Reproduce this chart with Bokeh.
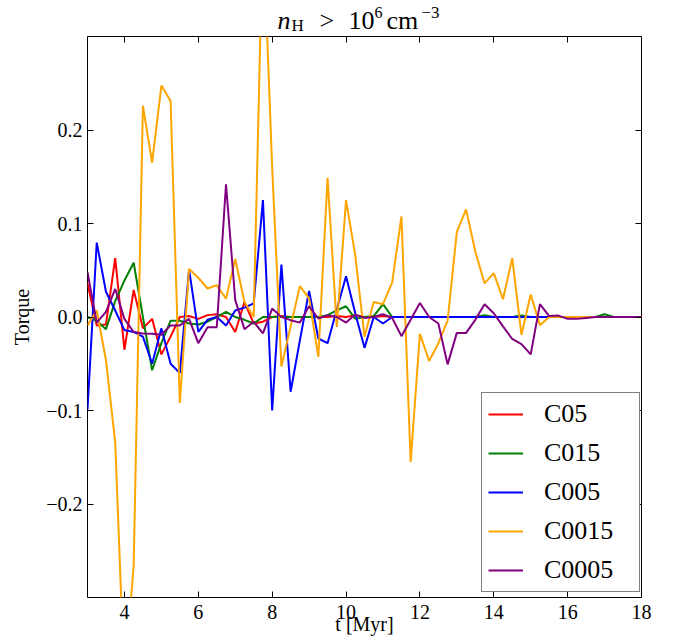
from bokeh.plotting import figure
from bokeh.layouts import column
from bokeh.models import (LinearAxis, FixedTicker, CustomJSTickFormatter, Legend, LegendItem,
                          Range1d)
from bokeh.core.properties import value
from bokeh.embed import file_html
from bokeh.resources import INLINE

# ---------------- data ----------------
t_myr = [3.0, 3.25, 3.5, 3.75, 4.0, 4.25, 4.5, 4.75, 5.0, 5.25, 5.5, 5.75, 6.0, 6.25, 6.5, 6.75,
         7.0, 7.25, 7.5, 7.75, 8.0, 8.25, 8.5, 8.75, 9.0, 9.25, 9.5, 9.75, 10.0, 10.25, 10.5, 10.75,
         11.0, 11.25, 11.5, 11.75, 12.0, 12.25, 12.5, 12.75, 13.0, 13.25, 13.5, 13.75, 14.0, 14.25,
         14.5, 14.75, 15.0, 15.25, 15.5, 15.75, 16.0, 16.25, 16.5, 16.75, 17.0, 17.25, 17.5, 17.75, 18.0]

torque_C05 = [0.036, -0.009, -0.008, 0.063, -0.035, 0.029, -0.012, -0.002, -0.040, -0.021,
              0.000, 0.001, -0.002, 0.002, 0.003, 0.000, -0.016, 0.016, -0.007, -0.005,
              0.000, 0.001, 0.000, 0.000, 0.000, 0.000, 0.000, 0.001, 0.000, 0.002,
              0.000, 0.000, 0.001, 0.000, 0.000, 0.000, 0.000, 0.000, 0.000, 0.000,
              0.000, 0.000, 0.000, 0.000, 0.000, 0.000, 0.000, 0.000, 0.000, 0.000,
              0.000, 0.000, 0.000, 0.000, 0.000, 0.000, 0.000, 0.000, 0.000, 0.000, 0.000]

torque_C015 = [0.000, -0.004, -0.013, 0.017, 0.039, 0.058, 0.000, -0.057, -0.028, -0.004,
               -0.004, -0.007, -0.008, -0.005, 0.000, 0.0055, 0.000, -0.003, -0.007, 0.000,
               0.000, 0.000, 0.000, 0.000, 0.000, 0.000, 0.002, 0.007, 0.0115, -0.002,
               0.000, 0.001, 0.0137, 0.000, 0.000, 0.000, 0.000, 0.000, 0.000, 0.000,
               0.000, 0.000, 0.000, 0.002, 0.000, 0.000, 0.000, 0.0015, 0.000, 0.000,
               0.000, 0.000, 0.000, 0.000, 0.000, 0.000, 0.003, 0.000, 0.000, 0.000, 0.000]

torque_C005 = [-0.099, 0.0795, 0.027, 0.007, -0.014, -0.016, -0.021, -0.050, -0.012, -0.050,
               -0.060, 0.051, -0.016, -0.003, 0.000, -0.009, 0.007, 0.010, 0.0145, 0.125,
               -0.100, 0.056, -0.080, -0.025, 0.028, -0.023, -0.028, 0.008, 0.0435, 0.004,
               -0.033, 0.000, -0.007, 0.000, 0.000, 0.000, 0.000, 0.000, 0.000, 0.000,
               0.000, 0.000, 0.000, 0.000, 0.000, 0.000, 0.000, 0.000, 0.000, 0.000,
               0.000, 0.000, 0.000, 0.000, 0.000, 0.000, 0.000, 0.000, 0.000, 0.000, 0.000]

torque_C0015 = [-0.009, 0.007, -0.046, -0.134, -0.390, -0.266, 0.226, 0.165, 0.2475, 0.231,
                -0.092, 0.0515, 0.042, 0.0305, 0.034, 0.0196, 0.062, 0.016, 0.000, 0.420,
                0.160, -0.053, -0.010, 0.033, 0.020, -0.0425, 0.149, -0.0105, 0.125, 0.066,
                -0.021, 0.016, 0.0137, 0.037, 0.1075, -0.155, -0.018, -0.047, -0.028, -0.004,
                0.091, 0.115, 0.070, 0.036, 0.047, 0.019, 0.063, -0.019, 0.024, -0.0087,
                0.000, 0.000, 0.000, 0.000, 0.000, 0.000, 0.000, 0.000, 0.000, 0.000, 0.000]

torque_C0005 = [0.048, -0.006, 0.0055, 0.030, -0.002, -0.016, -0.0176, -0.018, -0.019, -0.009,
                -0.009, -0.002, -0.028, -0.011, -0.011, 0.142, 0.018, -0.013, -0.005, -0.0176,
                0.009, 0.000, -0.0034, -0.006, 0.0115, -0.0016, 0.002, 0.000, -0.006, 0.0026,
                -0.001, 0.000, 0.003, -0.001, -0.0205, -0.003, 0.015, 0.000, -0.007, -0.0507,
                -0.017, -0.017, -0.003, 0.0137, 0.004, -0.010, -0.0235, -0.029, -0.040, 0.0137,
                0.001, 0.0015, -0.002, -0.002, -0.001, 0.000, 0.000, 0.000, 0.000, 0.000, 0.000]

series_names = ["C05", "C015", "C005", "C0015", "C0005"]
series_colors = ["red", "green", "blue", "orange", "purple"]
series_values = [torque_C05, torque_C015, torque_C005, torque_C0015, torque_C0005]

x_ticks = [4, 6, 8, 10, 12, 14, 16, 18]
y_ticks = [-0.2, -0.1, 0.0, 0.1, 0.2]

FONT = "Liberation Serif"

# ---------------- title strip (data units = page pixels) ----------------
tf = figure(width=675, height=36, x_range=Range1d(87, 641), y_range=Range1d(36, 0),
            output_backend="svg", toolbar_location=None,
            x_axis_location=None, y_axis_location=None,
            min_border_left=87, min_border_right=34, min_border_top=0, min_border_bottom=0)
tf.grid.visible = False
tf.outline_line_color = None
tf.background_fill_color = "white"
tf.border_fill_color = "white"

title_parts = [
    ("n", 277, 20.3, "26px", "italic"),
    ("H", 291, 25.1, "17px", "normal"),
    (">", 319, 20.3, "26px", "normal"),
    ("10", 348, 20.3, "26px", "normal"),
    ("6", 374, 11.8, "16px", "normal"),
    ("cm", 386, 20.3, "26px", "normal"),
    ("\u22123", 421, 11.8, "17px", "normal"),
]
for txt, px, py, fs, style in title_parts:
    tf.text(x=[px], y=[py], text=[txt], text_font=value(FONT), text_font_size=value(fs),
            text_font_style=value(style), text_color="black", text_line_height=1.0,
            text_align="left", text_baseline="alphabetic")

# ---------------- main figure ----------------
p = figure(width=675, height=607, x_range=Range1d(3, 18), y_range=Range1d(-0.3, 0.3),
           output_backend="svg", toolbar_location=None,
           x_axis_location=None, y_axis_location=None,
           min_border_left=87, min_border_right=34, min_border_top=0, min_border_bottom=46)
p.grid.visible = False
p.outline_line_color = "black"
p.outline_line_width = 1
p.background_fill_color = "white"
p.border_fill_color = "white"


def style_axis(ax, show_labels):
    ax.axis_line_color = None
    ax.major_tick_in = 6
    ax.major_tick_out = 0
    ax.major_tick_line_color = "black"
    ax.major_tick_line_width = 1
    ax.minor_tick_line_color = None
    ax.major_label_text_font = FONT
    ax.major_label_text_color = "black"
    if show_labels:
        ax.major_label_text_font_size = "20px"
    else:
        ax.major_label_text_font_size = "0px"
        ax.major_label_standoff = 0
        ax.formatter = CustomJSTickFormatter(code="return '';")


xb = LinearAxis(ticker=FixedTicker(ticks=x_ticks))
style_axis(xb, True)
xb.major_label_standoff = 7
xb.axis_label = "t [Myr]"
xb.axis_label_text_font = FONT
xb.axis_label_text_font_size = "20px"
xb.axis_label_text_font_style = "normal"
xb.axis_label_text_color = "black"
xb.axis_label_standoff = -9
p.add_layout(xb, "below")

xt = LinearAxis(ticker=FixedTicker(ticks=x_ticks))
style_axis(xt, False)
p.add_layout(xt, "above")

yl = LinearAxis(ticker=FixedTicker(ticks=y_ticks),
                formatter=CustomJSTickFormatter(
                    code="return (tick < -1e-9 ? '\u2212' : '') + Math.abs(tick).toFixed(1);"))
style_axis(yl, True)
yl.major_label_standoff = 5
yl.axis_label = "Torque"
yl.axis_label_text_font = FONT
yl.axis_label_text_font_size = "20px"
yl.axis_label_text_font_style = "normal"
yl.axis_label_text_color = "black"
yl.axis_label_standoff = 10
p.add_layout(yl, "left")

yr = LinearAxis(ticker=FixedTicker(ticks=y_ticks))
style_axis(yr, False)
p.add_layout(yr, "right")

# ---------------- lines ----------------
items = []
for name, color, vals in zip(series_names, series_colors, series_values):
    r = p.line(x=t_myr, y=vals, line_color=color, line_width=2)
    items.append(LegendItem(label=name, renderers=[r]))

legend = Legend(items=items, location=(394, 5),
                label_text_font=FONT, label_text_font_size="26px", label_text_color="black",
                glyph_width=35, glyph_height=20, label_standoff=21, label_width=89,
                padding=6, spacing=9,
                border_line_color="black", border_line_width=1,
                background_fill_color="white", background_fill_alpha=1)
p.add_layout(legend)

open("out.html", "w").write(file_html(column(tf, p), INLINE))
